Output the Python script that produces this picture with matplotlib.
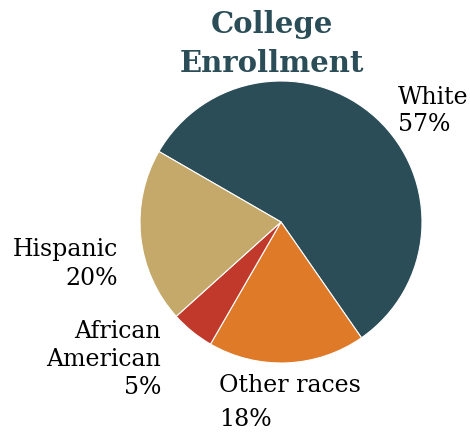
import matplotlib
matplotlib.use("Agg")
import matplotlib.pyplot as plt

# slices in clockwise order starting from the upper-left boundary
labels = ["White", "Other races", "African\nAmerican", "Hispanic"]
shares = [57, 18, 5, 20]
colors = ["#2B4D57", "#DF7A29", "#C0392B", "#C4A96B"]

TITLE = "College\nEnrollment"
TITLE_COLOR = "#2B4D57"
FONT = "DejaVu Serif"

fig = plt.figure(figsize=(4.70, 4.32), dpi=100)
# pie centre ~ (281, 222) px, radius ~141 px
cx, cy, r = 281, 222, 141
W, H = 470, 432
ax = fig.add_axes([(cx - r) / W, (H - cy - r) / H, 2 * r / W, 2 * r / H])
ax.pie(shares, colors=colors, startangle=150, counterclock=False,
       radius=1, wedgeprops=dict(edgecolor="white", linewidth=0.8))
ax.set_xlim(-1, 1)
ax.set_ylim(-1, 1)
ax.set_aspect("equal")
ax.axis("off")


def px(x, y):
    return (x - cx) / r, (cy - y) / r


# label positions (pixel coords)
label_pos = {
    "White": ((398, 86), "left", 1.22),
    "Other races": ((219, 374), "left", 1.60),
    "African\nAmerican": ((161, 320), "right", 1.27),
    "Hispanic": ((118, 238), "right", 1.32),
}
for lab, val in zip(labels, shares):
    (x, y), ha, ls = label_pos[lab]
    tx, ty = px(x, y)
    ax.text(tx, ty, "%s\n%d%%" % (lab, val), ha=ha, va="top",
            multialignment=ha, linespacing=ls, fontsize=17,
            family=FONT, color="black")

fig.text(272 / W, 1 - 10 / H, TITLE, ha="center", va="top", fontsize=21,
         fontweight="bold", family=FONT, color=TITLE_COLOR, linespacing=1.42)

fig.savefig("out.png", dpi=100)
